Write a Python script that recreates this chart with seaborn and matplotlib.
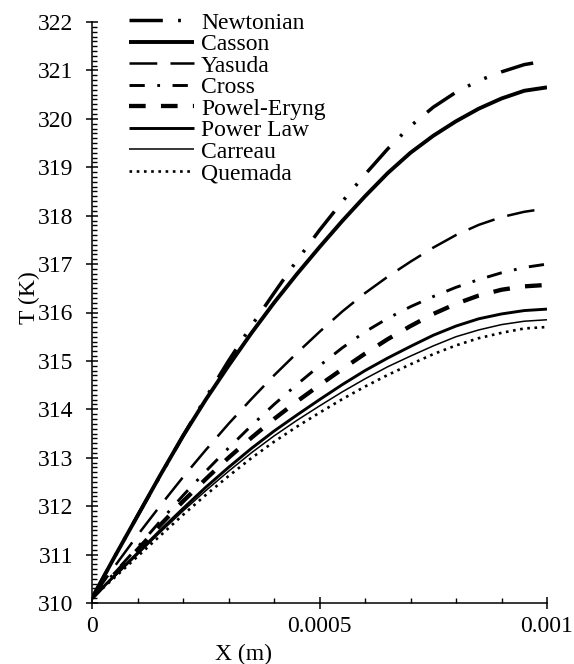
import numpy as np
import pandas as pd
import matplotlib
matplotlib.use("Agg")
import matplotlib.pyplot as plt
from matplotlib.ticker import MultipleLocator, FixedLocator
import seaborn as sns

# ---------------- data ----------------
x_m = [0.0, 0.00005, 0.0001, 0.00015, 0.0002, 0.00025, 0.0003, 0.00035, 0.0004, 0.00045,
       0.0005, 0.00055, 0.0006, 0.00065, 0.0007, 0.00075, 0.0008, 0.00085, 0.0009, 0.00095, 0.001]
newtonian = [310.1, 310.96, 311.8, 312.63, 313.45, 314.24, 315.0, 315.72, 316.4, 317.07,
             317.7, 318.29, 318.85, 319.38, 319.85, 320.24, 320.55, 320.79, 320.97, 321.12, 321.2]
casson = [310.1, 310.96, 311.8, 312.64, 313.45, 314.2, 314.9, 315.57, 316.2, 316.79,
          317.35, 317.89, 318.4, 318.88, 319.3, 319.65, 319.95, 320.21, 320.42, 320.58, 320.65]
yasuda = [310.1, 310.76, 311.4, 312.01, 312.6, 313.16, 313.7, 314.21, 314.7, 315.16,
          315.6, 316.02, 316.4, 316.74, 317.05, 317.34, 317.6, 317.81, 317.97, 318.08, 318.15]
cross = [310.1, 310.63, 311.15, 311.69, 312.22, 312.72, 313.2, 313.66, 314.1, 314.51,
         314.9, 315.27, 315.6, 315.88, 316.12, 316.33, 316.52, 316.68, 316.82, 316.93, 317.0]
powel_eryng = [310.1, 310.6, 311.1, 311.61, 312.1, 312.56, 313.0, 313.41, 313.8, 314.16,
               314.5, 314.83, 315.15, 315.45, 315.72, 315.97, 316.18, 316.35, 316.47, 316.54, 316.57]
power_law = [310.1, 310.57, 311.03, 311.5, 311.95, 312.39, 312.8, 313.19, 313.55, 313.88,
             314.2, 314.51, 314.8, 315.06, 315.3, 315.53, 315.72, 315.87, 315.97, 316.04, 316.07]
carreau = [310.1, 310.55, 311.0, 311.46, 311.9, 312.32, 312.72, 313.1, 313.45, 313.77,
           314.07, 314.36, 314.63, 314.88, 315.1, 315.31, 315.5, 315.64, 315.75, 315.82, 315.85]
quemada = [310.1, 310.53, 310.96, 311.39, 311.82, 312.23, 312.62, 312.99, 313.33, 313.64,
           313.93, 314.21, 314.47, 314.71, 314.93, 315.14, 315.32, 315.47, 315.58, 315.67, 315.7]

series_names = ["Newtonian", "Casson", "Yasuda", "Cross", "Powel-Eryng",
                "Power Law", "Carreau", "Quemada"]
series_values = [newtonian, casson, yasuda, cross, powel_eryng,
                 power_law, carreau, quemada]

x_ticks = [0.0, 0.0005, 0.001]
x_tick_labels = ["0", "0.0005", "0.001"]
y_ticks = [310, 311, 312, 313, 314, 315, 316, 317, 318, 319, 320, 321, 322]

# ---------------- styles ----------------
styles = {
    "Newtonian":   dict(lw=2.5, ls=(0, (24, 11, 2, 11, 2, 11))),
    "Casson":      dict(lw=2.8, ls="-"),
    "Yasuda":      dict(lw=1.8, ls=(0, (20, 9.5))),
    "Cross":       dict(lw=2.1, ls=(0, (11, 9, 2, 9))),
    "Powel-Eryng": dict(lw=3.1, ls=(0, (12, 11))),
    "Power Law":   dict(lw=2.1, ls="-"),
    "Carreau":     dict(lw=1.1, ls="-"),
    "Quemada":     dict(lw=1.9, ls=(0, (1.9, 3.3))),
}

sns.set_theme(style="ticks")
plt.rcParams["font.family"] = ["Liberation Serif", "DejaVu Serif"]
plt.rcParams["lines.scale_dashes"] = False
plt.rcParams["axes.linewidth"] = 1.1
plt.rcParams["axes.axisbelow"] = False
for a in ("xtick", "ytick"):
    plt.rcParams[f"{a}.minor.size"] = 3.5
    plt.rcParams[f"{a}.minor.width"] = 1.0
    plt.rcParams[f"{a}.minor.visible"] = True
    plt.rcParams[f"{a}.color"] = "black"
FS = 17

fig = plt.figure(figsize=(5.74, 6.64), dpi=100)
ax = fig.add_axes([92 / 574, 61 / 664, 455 / 574, 581 / 664])

rows = []
for name, vals in zip(series_names, series_values):
    for xv, yv in zip(x_m, vals):
        rows.append((name, xv, yv))
df = pd.DataFrame(rows, columns=["model", "X", "T"])

for name in series_names:
    st = styles[name]
    sns.lineplot(data=df[df["model"] == name], x="X", y="T", ax=ax,
                 color="black", linewidth=st["lw"], linestyle=st["ls"],
                 label=name, estimator=None, sort=False,
                 dash_capstyle="butt", solid_capstyle="butt",
                 solid_joinstyle="round")

ax.set_xlim(0, 0.001)
ax.set_ylim(310, 322)

ax.minorticks_on()
ax.xaxis.set_major_locator(FixedLocator(x_ticks))
ax.set_xticklabels(x_tick_labels)
ax.xaxis.set_minor_locator(MultipleLocator(0.0001))
ax.yaxis.set_major_locator(FixedLocator(y_ticks))
ax.set_yticklabels([str(v) for v in y_ticks])
ax.yaxis.set_minor_locator(MultipleLocator(0.1))

ax.tick_params(axis="both", which="major", direction="inout", length=9,
               width=1.1, colors="black", labelsize=FS)
ax.tick_params(axis="y", which="major", pad=9)
ax.tick_params(axis="x", which="major", pad=5)
ax.tick_params(axis="both", which="minor", direction="in", length=3.5,
               width=1.0, color="black", bottom=True, left=True)

for s in ["top", "right"]:
    ax.spines[s].set_visible(False)
for s in ["left", "bottom"]:
    ax.spines[s].set_color("black")

ax.set_xlabel("X (m)", fontsize=FS, color="black")
ax.set_ylabel("T (K)", fontsize=FS, color="black")
ax.xaxis.set_label_coords(0.334, -0.07)
ax.yaxis.set_label_coords(-0.115, 0.525)

leg = ax.legend(loc="upper left", bbox_to_anchor=(129 / 574, 1 - 12 / 664),
                bbox_transform=fig.transFigure, frameon=False, fontsize=FS,
                handlelength=2.75, handletextpad=0.3, labelspacing=0.0,
                borderpad=0, borderaxespad=0)
for t in leg.get_texts():
    t.set_color("black")

fig.savefig("out.png", dpi=100)
